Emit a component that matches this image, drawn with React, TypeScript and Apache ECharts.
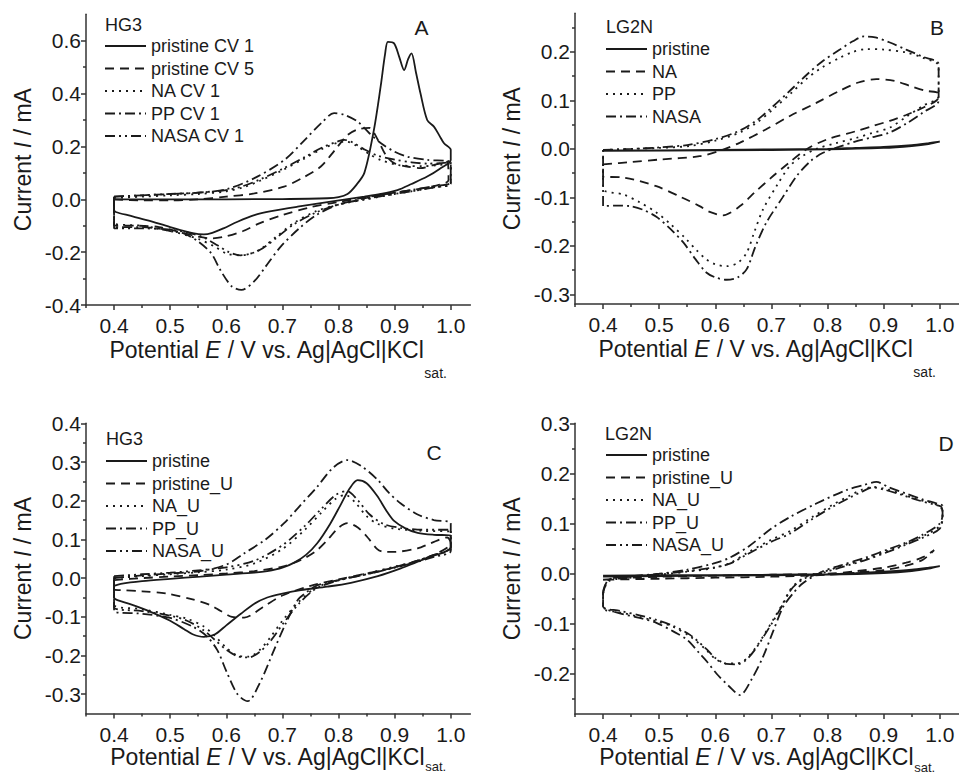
import React, { useEffect, useRef } from 'react';
import * as echarts from 'echarts';

const FONT = '"Liberation Sans", Arial, Helvetica, sans-serif';
const INK = '#1a1a1a';
const AXIS = '#333333';

// ---------- tick values ----------
const xMajorTicks = [0.4, 0.5, 0.6, 0.7, 0.8, 0.9, 1.0];
const xMinorTicks = [0.35, 0.45, 0.55, 0.65, 0.75, 0.85, 0.95];
const yMajorA = [-0.4, -0.2, 0, 0.2, 0.4, 0.6];
const yMinorA = [-0.3, -0.1, 0.1, 0.3, 0.5];
const yMajorB = [-0.3, -0.2, -0.1, 0, 0.1, 0.2];
const yMinorB = [-0.25, -0.15, -0.05, 0.05, 0.15, 0.25];
const yMajorC = [-0.3, -0.2, -0.1, 0, 0.1, 0.2, 0.3, 0.4];
const yMinorC = [-0.25, -0.15, -0.05, 0.05, 0.15, 0.25, 0.35];
const yMajorD = [-0.2, -0.1, 0, 0.1, 0.2, 0.3];
const yMinorD = [-0.25, -0.15, -0.05, 0.05, 0.15, 0.25];

// ---------- series names ----------
const namesA = ['pristine CV 1', 'pristine CV 5', 'NA CV 1', 'PP CV 1', 'NASA CV 1'];
const namesB = ['pristine', 'NA', 'PP', 'NASA'];
const namesC = ['pristine', 'pristine_U', 'NA_U', 'PP_U', 'NASA_U'];
const namesD = ['pristine', 'pristine_U', 'NA_U', 'PP_U', 'NASA_U'];

// ---------- Panel A (HG3) : [E / V, I / mA] ----------
const A_pristineCV1 = [
  [0.4, 0.0], [0.5, 0.0], [0.6, 0.0], [0.7, 0.001], [0.78, 0.004], [0.8, 0.008], [0.816, 0.02], [0.83, 0.05],
  [0.846, 0.1], [0.863, 0.262], [0.875, 0.426], [0.883, 0.55], [0.888, 0.596], [0.899, 0.59], [0.908, 0.54],
  [0.917, 0.489], [0.924, 0.53], [0.93, 0.552], [0.938, 0.48], [0.946, 0.401], [0.958, 0.3], [0.97, 0.275],
  [0.98, 0.24], [0.988, 0.212], [1.0, 0.187], [1.0, 0.149], [0.98, 0.115], [0.958, 0.086], [0.93, 0.058],
  [0.905, 0.035], [0.875, 0.02], [0.846, 0.01], [0.786, -0.009], [0.727, -0.028], [0.68, -0.045],
  [0.65, -0.06], [0.62, -0.085], [0.595, -0.11], [0.575, -0.127], [0.56, -0.133], [0.54, -0.128],
  [0.5, -0.105], [0.46, -0.08], [0.43, -0.063], [0.403, -0.048], [0.4, -0.04], [0.4, 0.0],
];
const A_pristineCV5 = [
  [0.4, 0.0], [0.45, -0.004], [0.5, -0.004], [0.55, 0.0], [0.6, 0.01], [0.65, 0.022], [0.703, 0.048],
  [0.735, 0.08], [0.768, 0.123], [0.795, 0.19], [0.816, 0.243], [0.835, 0.265], [0.855, 0.27], [0.87, 0.225],
  [0.885, 0.165], [0.899, 0.137], [0.92, 0.125], [0.946, 0.118], [0.97, 0.13], [0.994, 0.142],
  [0.996, 0.073], [0.97, 0.05], [0.93, 0.035], [0.9, 0.025], [0.85, 0.008], [0.8, -0.01], [0.75, -0.03],
  [0.7, -0.06], [0.66, -0.09], [0.63, -0.12], [0.6, -0.14], [0.575, -0.148], [0.549, -0.141],
  [0.52, -0.125], [0.48, -0.105], [0.44, -0.1], [0.4, -0.1], [0.4, -0.03], [0.4, 0.0],
];
const A_NA = [
  [0.4, 0.005], [0.45, 0.01], [0.5, 0.015], [0.55, 0.02], [0.6, 0.03], [0.63, 0.045], [0.66, 0.07],
  [0.7, 0.11], [0.74, 0.155], [0.77, 0.19], [0.8, 0.215], [0.815, 0.218], [0.83, 0.205], [0.857, 0.168],
  [0.875, 0.149], [0.905, 0.13], [0.95, 0.125], [0.98, 0.13], [1.0, 0.135],
  [1.0, 0.06], [0.97, 0.045], [0.93, 0.03], [0.9, 0.02], [0.85, 0.0], [0.8, -0.02], [0.76, -0.045],
  [0.72, -0.09], [0.69, -0.14], [0.66, -0.19], [0.64, -0.208], [0.626, -0.212], [0.6, -0.205],
  [0.58, -0.18], [0.55, -0.15], [0.5, -0.12], [0.45, -0.1], [0.4, -0.09], [0.4, -0.04], [0.4, 0.005],
];
const A_PP = [
  [0.4, 0.01], [0.45, 0.015], [0.5, 0.02], [0.55, 0.025], [0.6, 0.038], [0.65, 0.08], [0.703, 0.148],
  [0.74, 0.225], [0.77, 0.29], [0.792, 0.326], [0.81, 0.32], [0.834, 0.294], [0.855, 0.25], [0.875, 0.213],
  [0.9, 0.18], [0.923, 0.161], [0.958, 0.149], [1.0, 0.14],
  [1.0, 0.065], [0.97, 0.05], [0.93, 0.035], [0.9, 0.025], [0.85, 0.005], [0.8, -0.02], [0.76, -0.06],
  [0.73, -0.11], [0.697, -0.179], [0.67, -0.255], [0.65, -0.31], [0.627, -0.343], [0.61, -0.33],
  [0.59, -0.27], [0.573, -0.204], [0.55, -0.16], [0.525, -0.13], [0.5, -0.12], [0.45, -0.105],
  [0.4, -0.105], [0.4, -0.04], [0.4, 0.01],
];
const A_NASA = [
  [0.4, 0.01], [0.45, 0.015], [0.5, 0.02], [0.55, 0.025], [0.6, 0.035], [0.63, 0.05], [0.66, 0.075],
  [0.7, 0.115], [0.74, 0.16], [0.77, 0.195], [0.8, 0.22], [0.81, 0.225], [0.825, 0.215], [0.845, 0.19],
  [0.87, 0.165], [0.9, 0.15], [0.93, 0.14], [0.96, 0.135], [1.0, 0.14],
  [1.0, 0.06], [0.97, 0.045], [0.93, 0.03], [0.9, 0.02], [0.85, 0.002], [0.8, -0.02], [0.76, -0.05],
  [0.72, -0.095], [0.69, -0.145], [0.665, -0.185], [0.645, -0.205], [0.625, -0.212], [0.605, -0.2],
  [0.585, -0.175], [0.56, -0.145], [0.53, -0.125], [0.5, -0.115], [0.45, -0.11], [0.4, -0.11],
  [0.4, -0.04], [0.4, 0.01],
];

// ---------- Panel B (LG2N) ----------
const B_pristine = [
  [0.4, -0.003], [0.5, -0.003], [0.6, -0.002], [0.7, -0.001], [0.8, 0.0], [0.85, 0.002], [0.9, 0.004],
  [0.95, 0.008], [0.98, 0.012], [1.0, 0.015], [0.98, 0.01], [0.95, 0.006], [0.9, 0.002], [0.8, -0.001],
  [0.6, -0.003], [0.4, -0.004],
];
const B_NA = [
  [0.4, -0.032], [0.45, -0.027], [0.5, -0.022], [0.572, -0.015], [0.61, -0.003], [0.644, 0.013],
  [0.69, 0.04], [0.733, 0.068], [0.78, 0.095], [0.822, 0.12], [0.855, 0.137], [0.887, 0.144], [0.92, 0.14],
  [0.947, 0.13], [0.975, 0.12], [0.997, 0.115],
  [0.997, 0.105], [0.97, 0.085], [0.94, 0.07], [0.911, 0.058], [0.88, 0.047], [0.852, 0.037], [0.8, 0.02],
  [0.762, -0.001], [0.73, -0.03], [0.703, -0.056], [0.67, -0.09], [0.644, -0.118], [0.614, -0.137],
  [0.59, -0.13], [0.572, -0.118], [0.54, -0.1], [0.495, -0.077], [0.436, -0.059], [0.4, -0.057],
  [0.4, -0.032],
];
const B_PP = [
  [0.4, -0.002], [0.45, 0.0], [0.5, 0.002], [0.554, 0.006], [0.6, 0.017], [0.644, 0.034], [0.675, 0.055],
  [0.703, 0.082], [0.735, 0.115], [0.762, 0.144], [0.79, 0.168], [0.822, 0.188], [0.845, 0.2],
  [0.869, 0.206], [0.9, 0.205], [0.94, 0.199], [0.97, 0.188], [0.998, 0.171],
  [0.998, 0.109], [0.97, 0.089], [0.94, 0.066], [0.911, 0.044], [0.88, 0.033], [0.852, 0.023],
  [0.815, 0.012], [0.78, 0.0], [0.755, -0.015], [0.733, -0.035], [0.71, -0.075], [0.685, -0.125],
  [0.67, -0.17], [0.656, -0.214], [0.64, -0.235], [0.62, -0.242], [0.6, -0.238], [0.584, -0.228],
  [0.565, -0.207], [0.549, -0.187], [0.52, -0.155], [0.495, -0.131], [0.465, -0.11], [0.436, -0.094],
  [0.4, -0.083], [0.4, -0.04], [0.4, -0.002],
];
const B_NASA = [
  [0.4, -0.002], [0.45, 0.0], [0.5, 0.003], [0.55, 0.008], [0.6, 0.02], [0.644, 0.038], [0.675, 0.06],
  [0.703, 0.088], [0.733, 0.12], [0.762, 0.152], [0.79, 0.18], [0.822, 0.205], [0.845, 0.222],
  [0.865, 0.232], [0.885, 0.23], [0.91, 0.22], [0.94, 0.205], [0.97, 0.19], [0.998, 0.175],
  [0.998, 0.1], [0.97, 0.075], [0.94, 0.052], [0.911, 0.034], [0.88, 0.024], [0.852, 0.016],
  [0.82, 0.004], [0.792, -0.008], [0.77, -0.025], [0.745, -0.056], [0.72, -0.1], [0.691, -0.152],
  [0.672, -0.2], [0.656, -0.248], [0.64, -0.265], [0.62, -0.27], [0.6, -0.265], [0.584, -0.255],
  [0.565, -0.228], [0.543, -0.193], [0.52, -0.165], [0.495, -0.14], [0.47, -0.125], [0.448, -0.118],
  [0.42, -0.117], [0.4, -0.118], [0.4, -0.05], [0.4, -0.002],
];

// ---------- Panel C (HG3, U) ----------
const C_pristine = [
  [0.4, -0.02], [0.412, -0.015], [0.45, -0.008], [0.5, -0.002], [0.554, 0.004], [0.6, 0.009],
  [0.65, 0.014], [0.673, 0.018], [0.7, 0.027], [0.721, 0.04], [0.742, 0.06], [0.762, 0.09],
  [0.785, 0.14], [0.804, 0.19], [0.82, 0.232], [0.834, 0.253], [0.85, 0.245], [0.869, 0.212],
  [0.885, 0.175], [0.899, 0.148], [0.92, 0.128], [0.941, 0.117], [0.97, 0.112], [1.0, 0.11],
  [1.0, 0.08], [0.985, 0.065], [0.97, 0.058], [0.94, 0.042], [0.911, 0.025], [0.87, 0.005],
  [0.822, -0.012], [0.78, -0.022], [0.733, -0.031], [0.7, -0.04], [0.673, -0.05], [0.65, -0.066],
  [0.626, -0.092], [0.6, -0.122], [0.58, -0.145], [0.56, -0.152], [0.54, -0.145], [0.525, -0.132],
  [0.5, -0.11], [0.465, -0.087], [0.43, -0.068], [0.406, -0.057], [0.4, -0.05], [0.4, -0.02],
];
const C_pristineU = [
  [0.4, -0.005], [0.45, 0.0], [0.5, 0.004], [0.554, 0.008], [0.6, 0.012], [0.65, 0.018], [0.7, 0.03],
  [0.733, 0.047], [0.76, 0.07], [0.78, 0.098], [0.8, 0.13], [0.816, 0.142], [0.835, 0.13],
  [0.852, 0.105], [0.869, 0.075], [0.881, 0.068], [0.9, 0.068], [0.941, 0.077], [0.964, 0.09],
  [0.994, 0.105],
  [1.0, 0.09], [0.97, 0.06], [0.94, 0.045], [0.9, 0.028], [0.85, 0.012], [0.8, -0.003], [0.75, -0.02],
  [0.7, -0.045], [0.665, -0.075], [0.632, -0.102], [0.61, -0.1], [0.59, -0.085], [0.572, -0.07],
  [0.54, -0.055], [0.495, -0.04], [0.45, -0.034], [0.412, -0.031], [0.4, -0.03], [0.4, -0.005],
];
const C_NA = [
  [0.4, 0.0], [0.45, 0.005], [0.5, 0.01], [0.55, 0.015], [0.6, 0.022], [0.65, 0.038], [0.7, 0.075],
  [0.74, 0.125], [0.77, 0.17], [0.795, 0.205], [0.812, 0.215], [0.83, 0.195], [0.85, 0.16],
  [0.87, 0.14], [0.9, 0.128], [0.95, 0.122], [1.0, 0.12],
  [1.0, 0.075], [0.97, 0.06], [0.93, 0.04], [0.9, 0.03], [0.85, 0.012], [0.8, -0.005], [0.76, -0.025],
  [0.73, -0.06], [0.7, -0.11], [0.68, -0.15], [0.66, -0.185], [0.64, -0.203], [0.62, -0.2],
  [0.6, -0.18], [0.58, -0.15], [0.56, -0.125], [0.53, -0.105], [0.5, -0.095], [0.45, -0.08],
  [0.4, -0.068], [0.4, 0.0],
];
const C_PP = [
  [0.4, 0.0], [0.45, 0.007], [0.5, 0.012], [0.554, 0.018], [0.6, 0.035], [0.632, 0.064], [0.67, 0.1],
  [0.703, 0.142], [0.73, 0.185], [0.762, 0.236], [0.79, 0.285], [0.816, 0.305], [0.84, 0.29],
  [0.869, 0.255], [0.89, 0.22], [0.911, 0.193], [0.94, 0.165], [0.97, 0.15], [1.0, 0.142],
  [1.0, 0.08], [0.97, 0.06], [0.93, 0.04], [0.9, 0.028], [0.85, 0.01], [0.8, -0.005], [0.76, -0.02],
  [0.74, -0.04], [0.727, -0.057], [0.705, -0.12], [0.685, -0.186], [0.66, -0.27], [0.638, -0.318],
  [0.62, -0.3], [0.6, -0.24], [0.584, -0.186], [0.565, -0.15], [0.54, -0.125], [0.5, -0.103],
  [0.45, -0.092], [0.4, -0.085], [0.4, 0.0],
];
const C_NASA = [
  [0.4, 0.005], [0.45, 0.01], [0.5, 0.014], [0.55, 0.02], [0.6, 0.028], [0.65, 0.045], [0.7, 0.085],
  [0.74, 0.135], [0.77, 0.18], [0.795, 0.215], [0.815, 0.225], [0.835, 0.2], [0.855, 0.165],
  [0.88, 0.14], [0.91, 0.13], [0.95, 0.125], [1.0, 0.125],
  [1.0, 0.07], [0.97, 0.055], [0.93, 0.038], [0.9, 0.027], [0.85, 0.01], [0.8, -0.006], [0.76, -0.027],
  [0.73, -0.065], [0.705, -0.11], [0.68, -0.16], [0.66, -0.19], [0.64, -0.205], [0.62, -0.202],
  [0.6, -0.185], [0.58, -0.16], [0.56, -0.135], [0.53, -0.11], [0.5, -0.097], [0.45, -0.085],
  [0.4, -0.075], [0.4, 0.005],
];

// ---------- Panel D (LG2N, U) ----------
const D_pristine = [
  [0.4, -0.004], [0.5, -0.003], [0.6, -0.003], [0.7, -0.002], [0.8, -0.001], [0.85, 0.001], [0.9, 0.004],
  [0.95, 0.008], [0.98, 0.012], [1.0, 0.015], [0.98, 0.01], [0.95, 0.005], [0.9, 0.001], [0.8, -0.002],
  [0.6, -0.004], [0.4, -0.006],
];
const D_pristineU = [
  [0.4, -0.012], [0.45, -0.008], [0.5, -0.006], [0.6, -0.004], [0.7, -0.002], [0.8, 0.0], [0.85, 0.005],
  [0.9, 0.012], [0.94, 0.022], [0.97, 0.033], [0.99, 0.047], [0.97, 0.028], [0.94, 0.016], [0.9, 0.007],
  [0.85, 0.002], [0.8, -0.002], [0.7, -0.006], [0.6, -0.008], [0.5, -0.01], [0.4, -0.012],
];
const D_NA = [
  [0.4, -0.04], [0.41, -0.015], [0.45, -0.008], [0.5, -0.002], [0.55, 0.004], [0.6, 0.012],
  [0.626, 0.021], [0.656, 0.041], [0.7, 0.068], [0.733, 0.085], [0.774, 0.114], [0.81, 0.138],
  [0.84, 0.156], [0.86, 0.167], [0.881, 0.173], [0.9, 0.17], [0.93, 0.16], [0.96, 0.148], [0.99, 0.14],
  [1.003, 0.13], [1.005, 0.115],
  [1.0, 0.095], [0.97, 0.075], [0.94, 0.06], [0.911, 0.047], [0.87, 0.03], [0.822, 0.014], [0.79, 0.003],
  [0.762, -0.006], [0.745, -0.018], [0.733, -0.033], [0.72, -0.06], [0.703, -0.092], [0.688, -0.12],
  [0.673, -0.146], [0.655, -0.17], [0.638, -0.179], [0.62, -0.179], [0.6, -0.17], [0.584, -0.152],
  [0.555, -0.125], [0.525, -0.106], [0.495, -0.095], [0.465, -0.086], [0.43, -0.077], [0.4, -0.069],
  [0.4, -0.04],
];
const D_PP = [
  [0.4, -0.04], [0.41, -0.012], [0.45, -0.005], [0.5, 0.0], [0.55, 0.008], [0.596, 0.02], [0.626, 0.032],
  [0.66, 0.055], [0.7, 0.09], [0.733, 0.113], [0.78, 0.14], [0.834, 0.167], [0.862, 0.176],
  [0.887, 0.183], [0.91, 0.172], [0.94, 0.16], [0.97, 0.148], [0.995, 0.14], [1.005, 0.135],
  [1.005, 0.12], [1.0, 0.1], [0.97, 0.078], [0.94, 0.062], [0.911, 0.05], [0.87, 0.033], [0.822, 0.016],
  [0.79, 0.004], [0.756, -0.019], [0.738, -0.04], [0.721, -0.066], [0.703, -0.115], [0.685, -0.166],
  [0.665, -0.21], [0.644, -0.242], [0.625, -0.225], [0.602, -0.199], [0.585, -0.175], [0.572, -0.159],
  [0.55, -0.132], [0.525, -0.115], [0.495, -0.098], [0.465, -0.088], [0.43, -0.079], [0.4, -0.065],
  [0.4, -0.04],
];
const D_NASA = [
  [0.4, -0.035], [0.41, -0.012], [0.45, -0.006], [0.5, -0.001], [0.55, 0.005], [0.6, 0.013],
  [0.626, 0.02], [0.656, 0.038], [0.7, 0.064], [0.733, 0.08], [0.774, 0.11], [0.81, 0.134],
  [0.84, 0.152], [0.86, 0.163], [0.881, 0.172], [0.9, 0.168], [0.93, 0.158], [0.96, 0.147],
  [0.99, 0.138], [1.003, 0.133], [1.005, 0.115],
  [1.0, 0.09], [0.97, 0.072], [0.94, 0.058], [0.911, 0.045], [0.87, 0.028], [0.822, 0.012], [0.79, 0.001],
  [0.762, -0.008], [0.745, -0.02], [0.733, -0.035], [0.72, -0.062], [0.703, -0.095], [0.688, -0.122],
  [0.673, -0.148], [0.655, -0.172], [0.638, -0.181], [0.62, -0.18], [0.6, -0.168], [0.584, -0.15],
  [0.555, -0.122], [0.525, -0.104], [0.495, -0.092], [0.465, -0.083], [0.43, -0.074], [0.4, -0.066],
  [0.4, -0.035],
];

// ---------- styles ----------
const DASHED = [9, 6];
const DOTTED = [2, 5];
const DASH_DOT = [10, 4, 2, 4];
const DASH_DOT_DOT = [10, 4, 2, 4, 2, 4];

const panels = [
  {
    grid: { left: 86, top: 14.3, width: 384.4, height: 290.7 },
    yMin: -0.4, yMax: 0.7, yMajor: yMajorA, yMinor: yMinorA,
    label: 'HG3', labelPos: [105, 25], letter: 'A', letterPos: [421.5, 27],
    legendPos: [104, 37], subPad: 45, subSize: 14, nameGap: 31,
    names: namesA,
    data: [A_pristineCV1, A_pristineCV5, A_NA, A_PP, A_NASA],
    dashes: ['solid', DASHED, DOTTED, DASH_DOT, DASH_DOT_DOT],
  },
  {
    grid: { left: 575, top: 13.2, width: 384.4, height: 290.8 },
    yMin: -0.32, yMax: 0.28, yMajor: yMajorB, yMinor: yMinorB,
    label: 'LG2N', labelPos: [606, 27], letter: 'B', letterPos: [937, 27.5],
    legendPos: [605, 40], subPad: 45, subSize: 14, nameGap: 31,
    names: namesB,
    data: [B_pristine, B_NA, B_PP, B_NASA],
    dashes: ['solid', DASHED, DOTTED, DASH_DOT],
  },
  {
    grid: { left: 86, top: 423.3, width: 384.4, height: 290.3 },
    yMin: -0.35, yMax: 0.4, yMajor: yMajorC, yMinor: yMinorC,
    label: 'HG3', labelPos: [106, 439], letter: 'C', letterPos: [434, 452.5],
    legendPos: [105, 452], subPad: 20, subSize: 13, nameGap: 29,
    names: namesC,
    data: [C_pristine, C_pristineU, C_NA, C_PP, C_NASA],
    dashes: ['solid', DASHED, DOTTED, DASH_DOT, DASH_DOT_DOT],
  },
  {
    grid: { left: 575, top: 423.3, width: 384.4, height: 290.8 },
    yMin: -0.28, yMax: 0.3, yMajor: yMajorD, yMinor: yMinorD,
    label: 'LG2N', labelPos: [605, 434], letter: 'D', letterPos: [946, 443.5],
    legendPos: [605, 446], subPad: 20, subSize: 13, nameGap: 29,
    names: namesD,
    data: [D_pristine, D_pristineU, D_NA, D_PP, D_NASA],
    dashes: ['solid', DASHED, DOTTED, DASH_DOT, DASH_DOT_DOT],
  },
];

const X_MIN = 0.35;
const X_MAX = 1.035;

function buildOption() {
  const fmt = (v: number) => Number(v).toFixed(1);
  const axisLineStyle = { color: AXIS, width: 1.5 };
  const xName = '{a|Potential }{i|E}{a| / V vs. Ag|AgCl|KCl}{s|sat.}';
  const yName = '{a|Current }{i|I}{a| / mA}';
  const nameRich = (pad: number, size: number) => ({
    a: { fontSize: 23, fontFamily: FONT, color: INK, lineHeight: 28 },
    i: { fontSize: 23, fontFamily: FONT, color: INK, lineHeight: 28, fontStyle: 'italic' },
    s: { fontSize: size, fontFamily: FONT, color: INK, lineHeight: size, padding: [pad, 0, 0, 0] },
  });
  const yRich = {
    a: { fontSize: 23, fontFamily: FONT, color: INK },
    i: { fontSize: 23, fontFamily: FONT, color: INK, fontStyle: 'italic' },
  };

  const xAxis: any[] = [];
  const yAxis: any[] = [];
  const series: any[] = [];
  const legend: any[] = [];
  const graphic: any[] = [];

  panels.forEach((p, gi) => {
    xAxis.push({
      type: 'value', gridIndex: gi, min: X_MIN, max: X_MAX, position: 'bottom',
      axisLine: { show: true, onZero: false, lineStyle: axisLineStyle },
      axisTick: { show: true, inside: false, length: 5, customValues: xMajorTicks, lineStyle: axisLineStyle },
      axisLabel: { show: true, customValues: xMajorTicks, formatter: fmt, fontSize: 21, fontFamily: FONT, color: INK, margin: 10 },
      splitLine: { show: false },
      name: xName, nameLocation: 'middle', nameGap: p.nameGap, nameMoveOverlap: false,
      nameTextStyle: { fontFamily: FONT, color: INK, rich: nameRich(p.subPad, p.subSize) },
    });
    xAxis.push({
      type: 'value', gridIndex: gi, min: X_MIN, max: X_MAX, position: 'bottom',
      axisLine: { show: false, onZero: false },
      axisTick: { show: true, inside: false, length: 3, customValues: xMinorTicks, lineStyle: axisLineStyle },
      axisLabel: { show: false },
      splitLine: { show: false },
    });
    yAxis.push({
      type: 'value', gridIndex: gi, min: p.yMin, max: p.yMax, position: 'left',
      axisLine: { show: true, onZero: false, lineStyle: axisLineStyle },
      axisTick: { show: true, inside: false, length: 5, customValues: p.yMajor, lineStyle: axisLineStyle },
      axisLabel: { show: true, customValues: p.yMajor, formatter: fmt, fontSize: 21, fontFamily: FONT, color: INK, margin: 5 },
      splitLine: { show: false },
      name: yName, nameLocation: 'middle', nameGap: 52, nameRotate: 90,
      nameTextStyle: { fontFamily: FONT, color: INK, rich: yRich },
    });
    yAxis.push({
      type: 'value', gridIndex: gi, min: p.yMin, max: p.yMax, position: 'left',
      axisLine: { show: false, onZero: false },
      axisTick: { show: true, inside: false, length: 3, customValues: p.yMinor, lineStyle: axisLineStyle },
      axisLabel: { show: false },
      splitLine: { show: false },
    });

    p.names.forEach((name, si) => {
      series.push({
        type: 'line', name, xAxisIndex: gi * 2, yAxisIndex: gi * 2,
        data: p.data[si], symbol: 'none', showSymbol: false, smooth: 0.3,
        color: INK,
        lineStyle: { color: INK, width: 1.8, type: p.dashes[si] },
        silent: true, z: 3,
      });
    });

    legend.push({
      left: p.legendPos[0], top: p.legendPos[1], orient: 'vertical', padding: 0,
      itemWidth: 41, itemHeight: 14, itemGap: 4.5, selectedMode: false,
      itemStyle: { color: 'rgba(0,0,0,0)', borderWidth: 0, borderColor: 'rgba(0,0,0,0)', opacity: 0 },
      textStyle: { fontSize: 18, fontFamily: FONT, color: INK, lineHeight: 18 },
      data: p.names,
    });

    graphic.push({
      type: 'text', x: p.labelPos[0], y: p.labelPos[1],
      style: { text: p.label, fontSize: 18, fontFamily: FONT, fill: INK, verticalAlign: 'middle', align: 'left' },
    });
    graphic.push({
      type: 'text', x: p.letterPos[0], y: p.letterPos[1],
      style: { text: p.letter, fontSize: 21, fontFamily: FONT, fill: INK, verticalAlign: 'middle', align: 'center' },
    });
  });

  return {
    animation: false,
    backgroundColor: '#ffffff',
    textStyle: { fontFamily: FONT },
    grid: panels.map((p) => ({ ...p.grid, containLabel: false, outerBoundsMode: 'none' })),
    xAxis, yAxis, series, legend, graphic,
  };
}

export default function App() {
  const ref = useRef<HTMLDivElement>(null);
  useEffect(() => {
    if (!ref.current) return;
    const chart = echarts.init(ref.current, undefined, { renderer: 'svg' });
    chart.setOption(buildOption() as any);
    return () => chart.dispose();
  }, []);
  return (
    <div
      ref={ref}
      style={{ position: 'absolute', left: 0, top: 0, width: 959, height: 775, background: '#fff' }}
    />
  );
}
